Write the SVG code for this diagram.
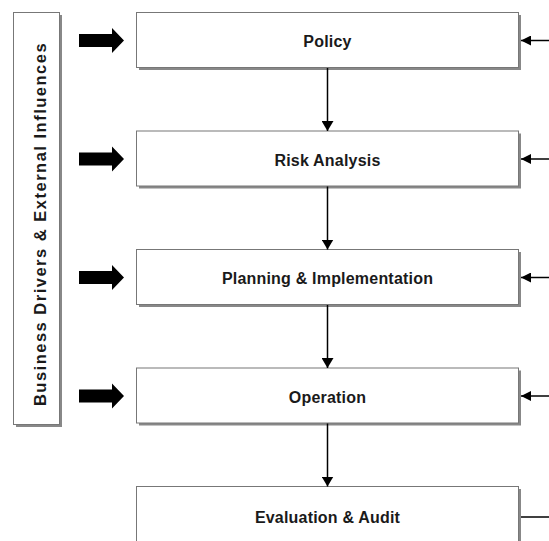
<svg xmlns="http://www.w3.org/2000/svg" width="549" height="541" viewBox="0 0 549 541">
<style>
.box{fill:#fff;stroke:#777;stroke-width:1}
.sh{fill:#888}
.lbl{font-family:"Liberation Sans",Arial,sans-serif;font-weight:bold;font-size:16px;letter-spacing:0.2px;fill:#1a1a1a;text-anchor:middle}
.ln{stroke:#000;stroke-width:1.5;fill:none}
.fat{fill:#000}
</style>
<defs>
<marker id="ah" markerWidth="10" markerHeight="12" refX="10" refY="6" orient="auto" markerUnits="userSpaceOnUse">
<path d="M0,0 L10,6 L0,12 Z" fill="#000"/>
</marker>
<marker id="ahs" markerWidth="10" markerHeight="10" refX="10" refY="5" orient="auto" markerUnits="userSpaceOnUse">
<path d="M0,0 L10,5 L0,10 Z" fill="#000"/>
</marker>
</defs>
<rect width="549" height="541" fill="#fff"/>
<g id="drivers">
<rect class="sh" x="16" y="15" width="46" height="412"/>
<rect class="box" x="13.5" y="12.5" width="46" height="412"/>
<text class="lbl" transform="translate(46,224) rotate(-90)" style="font-size:16.5px;letter-spacing:1.5px">Business Drivers &amp; External Influences</text>
</g>
<g id="policy">
<rect class="sh" x="139" y="15" width="382" height="55"/>
<rect class="box" x="136.5" y="12.5" width="382" height="55"/>
<text class="lbl" x="327.5" y="47">Policy</text>
</g>
<g id="risk">
<rect class="sh" x="139" y="133.5" width="382" height="55"/>
<rect class="box" x="136.5" y="131" width="382" height="55"/>
<text class="lbl" x="327.5" y="165.5">Risk Analysis</text>
</g>
<g id="planning">
<rect class="sh" x="139" y="252" width="382" height="55"/>
<rect class="box" x="136.5" y="249.5" width="382" height="55"/>
<text class="lbl" x="327.5" y="284">Planning &amp; Implementation</text>
</g>
<g id="operation">
<rect class="sh" x="139" y="370.5" width="382" height="55"/>
<rect class="box" x="136.5" y="368" width="382" height="55"/>
<text class="lbl" x="327.5" y="402.5">Operation</text>
</g>
<g id="evaluation">
<rect class="sh" x="139" y="489" width="382" height="60"/>
<rect class="box" x="136.5" y="486.5" width="382" height="60"/>
<text class="lbl" x="327.5" y="522.5">Evaluation &amp; Audit</text>
</g>
<g id="connectors">
<line class="ln" x1="327.5" y1="68" x2="327.5" y2="131" marker-end="url(#ah)"/>
<line class="ln" x1="327.5" y1="186.5" x2="327.5" y2="249.5" marker-end="url(#ah)"/>
<line class="ln" x1="327.5" y1="305" x2="327.5" y2="368" marker-end="url(#ah)"/>
<line class="ln" x1="327.5" y1="423.5" x2="327.5" y2="486.5" marker-end="url(#ah)"/>
<path class="fat" d="M79,34 H112 V28 L124,40.5 L112,53 V47 H79 Z"/>
<path class="fat" d="M79,152.5 H112 V146.5 L124,159 L112,171.5 V165.5 H79 Z"/>
<path class="fat" d="M79,271 H112 V265 L124,277.5 L112,290 V284 H79 Z"/>
<path class="fat" d="M79,389.5 H112 V383.5 L124,396 L112,408.5 V402.5 H79 Z"/>
<line class="ln" x1="549" y1="40.5" x2="521" y2="40.5" marker-end="url(#ahs)"/>
<line class="ln" x1="549" y1="159" x2="521" y2="159" marker-end="url(#ahs)"/>
<line class="ln" x1="549" y1="277.5" x2="521" y2="277.5" marker-end="url(#ahs)"/>
<line class="ln" x1="549" y1="396" x2="521" y2="396" marker-end="url(#ahs)"/>
<line class="ln" x1="549" y1="517" x2="521" y2="517"/>
</g>
</svg>
